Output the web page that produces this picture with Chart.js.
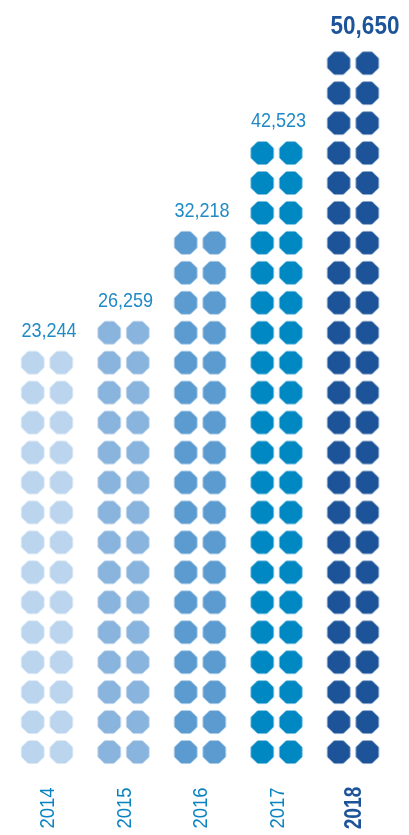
<!DOCTYPE html>
<html>
<head>
<meta charset="utf-8">
<script src="https://cdn.jsdelivr.net/npm/chart.js@4"></script>
<style>
html,body{margin:0;padding:0;background:#fff;}
#wrap{width:409px;height:835px;}
</style>
</head>
<body>
<div id="wrap"><canvas id="c" width="409" height="835"></canvas></div>
<script>
// ---- data ----
const years = ['2014', '2015', '2016', '2017', '2018'];
const values = [23244, 26259, 32218, 42523, 50650];
const valueLabels = ['23,244', '26,259', '32,218', '42,523', '50,650'];
const dotRows = [14, 15, 18, 21, 24];          // rows of two dots per year
const dotColors = ['#bcd5ee', '#89b4dd', '#5b9bd0', '#0088c3', '#1d5499'];
const labelColors = ['#1f8ac6', '#1f8ac6', '#1f8ac6', '#1f8ac6', '#1d5499'];
const yearColors = ['#0a84c1', '#0a84c1', '#0a84c1', '#0a84c1', '#1d5499'];
const highlight = [false, false, false, false, true];

// ---- styles ----
const PAIR_OFFSET = 0.1863;   // half spacing of the two dot columns (x units)
const DOT = 26;

function octagon(color) {
  const cv = document.createElement('canvas');
  cv.width = DOT; cv.height = DOT;
  const g = cv.getContext('2d');
  const c = DOT / 2, R = 10.9;
  g.fillStyle = color;
  g.strokeStyle = color;
  g.lineWidth = 2.8;
  g.lineJoin = 'round';
  g.beginPath();
  for (let k = 0; k < 8; k++) {
    const a = Math.PI / 8 + k * Math.PI / 4;
    const px = c + R * Math.cos(a), py = c + R * Math.sin(a);
    k === 0 ? g.moveTo(px, py) : g.lineTo(px, py);
  }
  g.closePath();
  g.fill();
  g.stroke();
  return cv;
}

const datasets = years.map((y, i) => {
  const pts = [];
  for (let r = 0; r < dotRows[i]; r++) {
    pts.push({x: i - PAIR_OFFSET, y: r});
    pts.push({x: i + PAIR_OFFSET, y: r});
  }
  return {
    label: y,
    data: pts,
    pointStyle: octagon(dotColors[i]),
    pointRadius: 12,
    backgroundColor: dotColors[i],
    borderWidth: 0
  };
});

function drawText(ctx, text, x, y, font, color, sx, rot) {
  ctx.save();
  ctx.translate(x, y);
  if (rot) ctx.rotate(rot);
  ctx.scale(sx, 1);
  ctx.font = font;
  ctx.fillStyle = color;
  ctx.textAlign = 'center';
  ctx.textBaseline = 'alphabetic';
  ctx.fillText(text, 0, 0);
  ctx.restore();
}

const labelPlugin = {
  id: 'labels',
  afterDatasetsDraw(chart) {
    const ctx = chart.ctx;
    const xs = chart.scales.x, ys = chart.scales.y;
    years.forEach((yr, i) => {
      const cx = xs.getPixelForValue(i);
      const topY = ys.getPixelForValue(dotRows[i] - 1);
      if (highlight[i]) {
        drawText(ctx, valueLabels[i], cx + 12, topY - 29, 'bold 25px "Liberation Sans", Arial, sans-serif', labelColors[i], 0.9);
        drawText(ctx, yr, cx + 8, 808, 'bold 24px "Liberation Sans", Arial, sans-serif', yearColors[i], 0.8, -Math.PI / 2);
      } else {
        drawText(ctx, valueLabels[i], cx + 2, topY - 26, '21px "Liberation Sans", Arial, sans-serif', labelColors[i], 0.86);
        drawText(ctx, yr, cx + 7, 808, '21px "Liberation Sans", Arial, sans-serif', yearColors[i], 0.88, -Math.PI / 2);
      }
    });
  }
};

new Chart(document.getElementById('c'), {
  type: 'scatter',
  data: {datasets},
  options: {
    responsive: false,
    animation: false,
    events: [],
    layout: {padding: 0, autoPadding: false},
    plugins: {legend: {display: false}, tooltip: {enabled: false}},
    scales: {
      x: {type: 'linear', display: false, min: -0.6144, max: 4.732},
      y: {type: 'linear', display: false, min: -2.771, max: 25.109}
    }
  },
  plugins: [labelPlugin]
});
</script>
</body>
</html>
